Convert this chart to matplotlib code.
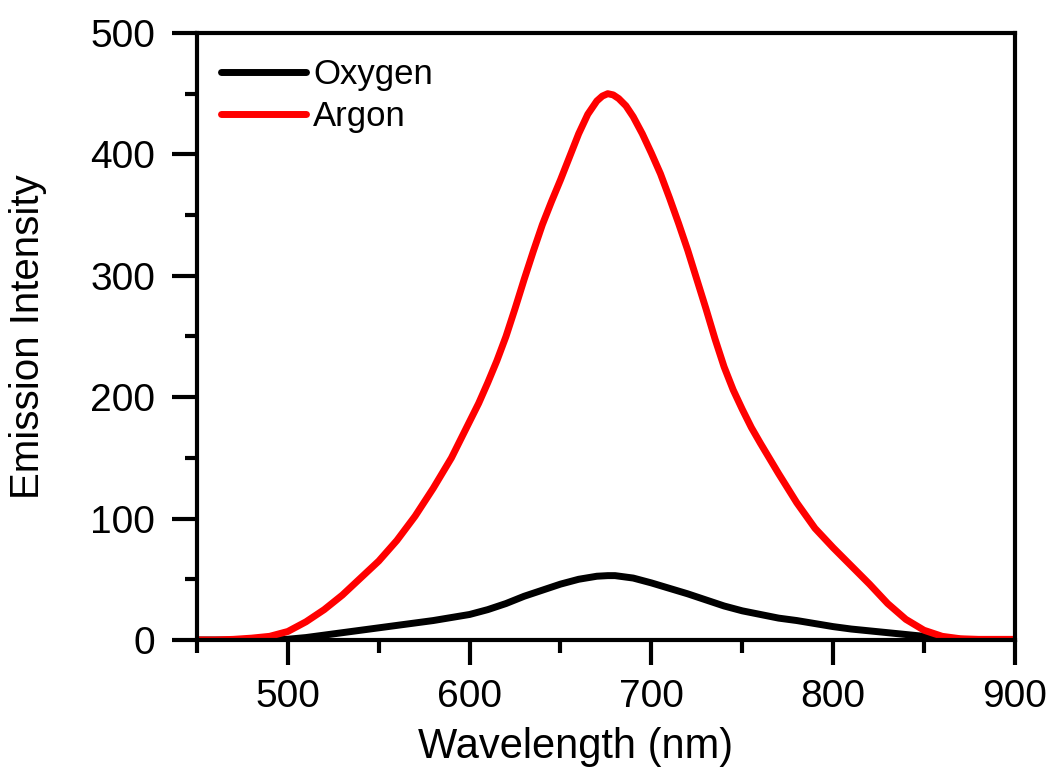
import matplotlib
matplotlib.use("Agg")
import matplotlib.pyplot as plt
from matplotlib.ticker import MultipleLocator

plt.rcParams["font.family"] = ["Liberation Sans", "DejaVu Sans"]

# wavelength (nm) for each series
wl_oxygen = [450, 460, 470, 480, 490, 500, 510, 520, 530, 540, 550, 560, 570, 580, 590,
             600, 610, 620, 630, 640, 650, 660, 670, 676, 680, 690, 700, 710, 720, 730,
             740, 750, 760, 770, 780, 790, 800, 810, 820, 830, 840, 850, 860, 870, 880,
             890, 900]
oxygen = [0, 0, 0, 0, 0.2, 0.6, 2, 4, 6, 8, 10, 12, 14, 16, 18.5,
          21, 25, 30, 36, 41, 46, 50, 52.5, 53, 53, 51, 47, 42.5, 38, 33,
          28, 24, 21, 18, 16, 13.5, 11, 9, 7.5, 6, 4.5, 3, 1.5, 0.5, 0,
          0, 0]

wl_argon = [450, 460, 470, 480, 490, 500, 510, 520, 530, 540, 550, 560, 570, 580, 590,
            600, 605, 610, 615, 620, 625, 630, 635, 640, 645, 650, 655, 660, 665, 670,
            673, 676, 679, 682, 686, 690, 695, 700, 705, 710, 715, 720, 725, 730, 735,
            740, 745, 750, 755, 760, 770, 780, 790, 800, 810, 820, 830, 840, 850, 860,
            870, 880, 890, 900]
argon = [0, 0, 0.5, 1.5, 3, 7, 15, 25, 37, 51, 65, 82, 102, 125, 150,
         180, 195, 212, 230, 250, 273, 297, 320, 342, 361, 379, 398, 417, 433, 444,
         448, 450, 449, 446, 440, 431, 417, 401, 384, 364, 343, 321, 297, 273, 248,
         225, 206, 190, 175, 162, 137, 113, 92, 76, 61, 46, 30, 17, 8, 3,
         1, 0.5, 0.5, 0.5]

fig = plt.figure(figsize=(10.55, 7.76), dpi=100)
ax = fig.add_axes([0.1867, 0.1753, 0.7753, 0.7822])

ax.plot(wl_oxygen, oxygen, color="black", lw=5, label="Oxygen", solid_capstyle="round")
ax.plot(wl_argon, argon, color="#ff0000", lw=5, label="Argon", solid_capstyle="round")

ax.set_xlim(450, 900)
ax.set_ylim(0, 500)
ax.set_xticks([500, 600, 700, 800, 900])
ax.xaxis.set_minor_locator(MultipleLocator(50))
ax.yaxis.set_major_locator(MultipleLocator(100))
ax.yaxis.set_minor_locator(MultipleLocator(50))

for s in ax.spines.values():
    s.set_linewidth(3)
ax.tick_params(which="major", direction="out", length=18, width=3, labelsize=28, pad=10)
ax.tick_params(axis="y", which="major", pad=12)
ax.tick_params(which="minor", direction="out", length=9, width=3)

ax.set_xlabel("Wavelength (nm)", fontsize=30)
ax.xaxis.set_label_coords(0.463, -0.143)
ax.set_ylabel("Emission Intensity", fontsize=29)
ax.yaxis.set_label_coords(-0.183, 0.5)

ax.legend(loc="upper left", frameon=False, fontsize=25, handlelength=2.45,
          handletextpad=0.2, labelspacing=0.25, borderaxespad=0.3,
          bbox_to_anchor=(0.0, 0.998))

fig.savefig("out.png", dpi=100)
